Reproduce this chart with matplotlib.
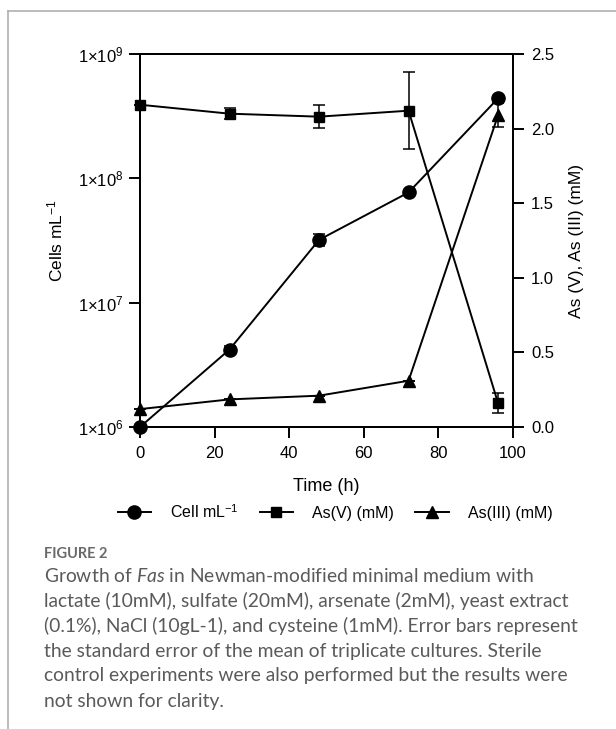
import matplotlib
matplotlib.use("Agg")
import matplotlib.pyplot as plt
from matplotlib.lines import Line2D
from matplotlib.ticker import FixedLocator, NullLocator

plt.rcParams['font.family'] = ['Liberation Sans', 'DejaVu Sans']
plt.rcParams['mathtext.fontset'] = 'custom'
plt.rcParams['mathtext.rm'] = 'Liberation Sans'
plt.rcParams['mathtext.it'] = 'Lato:italic'

# data
time_h = [0, 24, 48, 72, 96]
cells = [1.0e6, 4.2e6, 3.2e7, 7.7e7, 4.4e8]
cells_err = [0, 2.5e5, 3.5e6, 0, 0]
as_v = [2.16, 2.10, 2.08, 2.12, 0.16]
as_v_err = [0, 0.035, 0.075, 0.26, 0.065]
as_iii = [0.12, 0.185, 0.21, 0.31, 2.09]
as_iii_err = [0, 0, 0, 0, 0.08]

x_ticks = [0, 20, 40, 60, 80, 100]
left_ticks = [1e6, 1e7, 1e8, 1e9]
left_labels = [r'$1{\times}10^{6}$', r'$1{\times}10^{7}$', r'$1{\times}10^{8}$', r'$1{\times}10^{9}$']
right_ticks = [0.0, 0.5, 1.0, 1.5, 2.0, 2.5]

caption_head = "FIGURE 2"
caption_lines = [
    r"Growth of $\mathit{Fas}$ in Newman-modified minimal medium with",
    "lactate (10mM), sulfate (20mM), arsenate (2mM), yeast extract",
    "(0.1%), NaCl (10gL-1), and cysteine (1mM). Error bars represent",
    "the standard error of the mean of triplicate cultures. Sterile",
    "control experiments were also performed but the results were",
    "not shown for clarity.",
]

W, H = 616, 729
fig = plt.figure(figsize=(W / 100, H / 100), dpi=100)
ax = fig.add_axes([140 / W, 1 - 427 / H, 373 / W, 373 / H])
ax2 = ax.twinx()

lw = 1.4
kw = dict(color='black', lw=lw, capsize=4, elinewidth=1.1, capthick=1.1, clip_on=False)

# cells on log axis
ax.errorbar(time_h, cells, yerr=cells_err, marker='o', ms=9.5, **kw)
# arsenic on linear axis
ax2.errorbar(time_h, as_v, yerr=as_v_err, marker='s', ms=7.5, **kw)
ax2.errorbar(time_h, as_iii, yerr=as_iii_err, marker='^', ms=8.5, **kw)

ax.set_yscale('log')
ax.set_xlim(0, 100)
ax.set_ylim(1e6, 1e9)
ax.yaxis.set_major_locator(FixedLocator(left_ticks))
ax.yaxis.set_minor_locator(NullLocator())
ax.set_yticklabels(left_labels)
ax.set_xticks(x_ticks)
ax2.set_ylim(0, 2.5)
ax2.set_yticks(right_ticks)
ax2.set_yticklabels([f"{v:.1f}" for v in right_ticks])

for a in (ax, ax2):
    for s in a.spines.values():
        s.set_linewidth(1.4)
    a.tick_params(direction='out', length=8, width=1.4, labelsize=12)
ax.tick_params(axis='x', pad=6)
ax.tick_params(axis='y', pad=4)
ax2.tick_params(axis='y', pad=5)

ax.set_xlabel("Time (h)", fontsize=13, labelpad=12)
ax.set_ylabel(r"Cells mL$^{-1}$", fontsize=12.5, labelpad=9)
ax2.set_ylabel("As (V), As (III) (mM)", fontsize=12.5, labelpad=11)

handles = [
    Line2D([], [], color='black', lw=lw, marker='o', ms=9.5),
    Line2D([], [], color='black', lw=lw, marker='s', ms=7.5),
    Line2D([], [], color='black', lw=lw, marker='^', ms=8.5),
]
labels = [r"Cell mL$^{-1}$", "As(V) (mM)", "As(III) (mM)"]
fig.legend(handles, labels, loc='center', bbox_to_anchor=(335 / W, 1 - 512 / H),
           ncol=3, frameon=False, fontsize=11.5, handlelength=2.1,
           columnspacing=1.3, handletextpad=1.2)

# page frame
fig.add_artist(Line2D([8 / W, 1], [1 - 11 / H, 1 - 11 / H], color='#b0b0b0', lw=1.2))
fig.add_artist(Line2D([8 / W, 8 / W], [0, 1 - 11 / H], color='#b0b0b0', lw=1.2))

# caption
fig.text(44 / W, 1 - 554 / H, caption_head, fontsize=10.5, fontweight='bold',
         color='#6a6a6a', family=['Lato', 'DejaVu Sans'], va='center')
for i, line in enumerate(caption_lines):
    fig.text(44 / W, 1 - (576 + 25 * i) / H, line, fontsize=13.9,
             color='#5a5a5a', family=['Lato', 'DejaVu Sans'], va='center')

fig.savefig("out.png", dpi=100)
